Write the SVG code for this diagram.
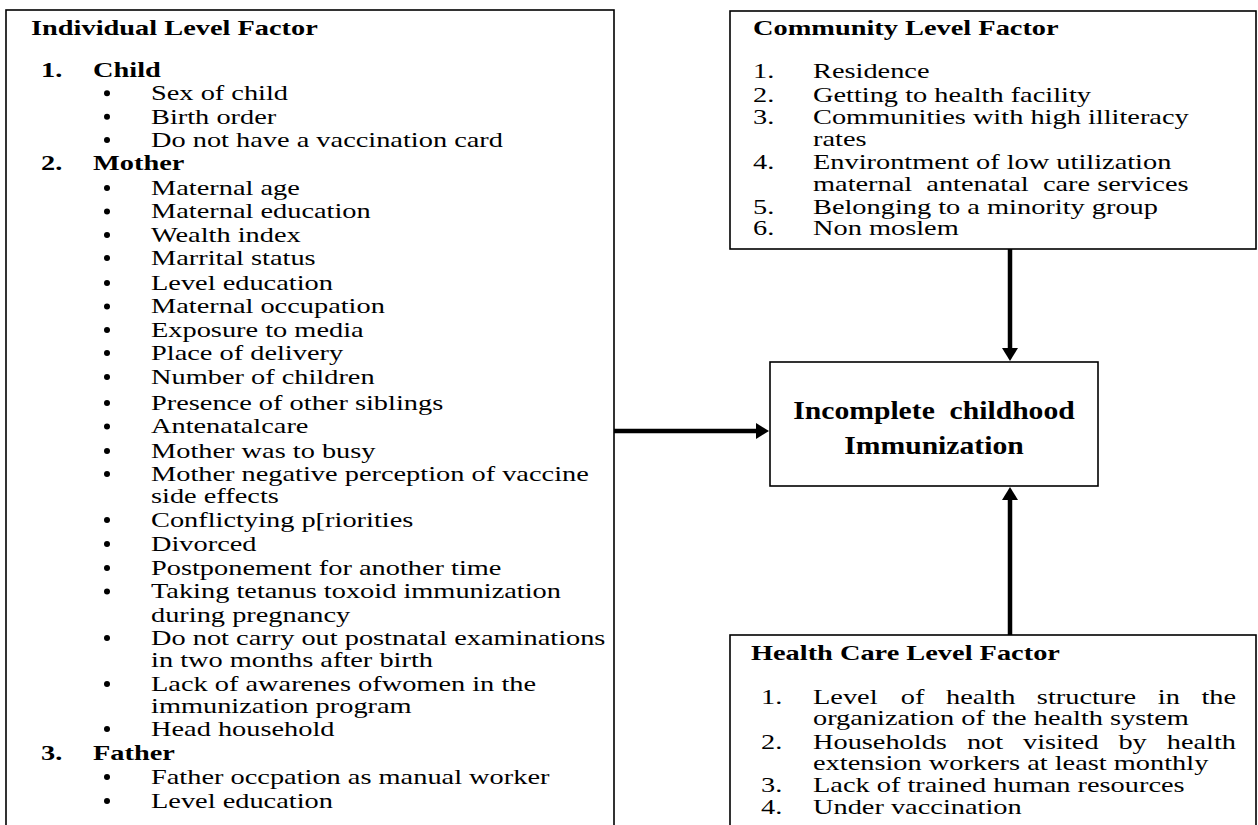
<svg xmlns="http://www.w3.org/2000/svg" width="1258" height="825" viewBox="0 0 1258 825">
<style>
  .box { fill: #fff; stroke: #000; stroke-width: 1.6; }
  text { font-family: "Liberation Serif", "Times New Roman", serif; font-size: 21.5px; fill: #000; white-space: pre; }
  .b { font-weight: bold; }
  .ctr { font-weight: bold; font-size: 26px; text-anchor: middle; }
  .end { text-anchor: end; }
  .bul { fill: #000; }
  .conn { stroke: #000; stroke-width: 4.5; fill: none; marker-end: url(#arr); }
</style>
<defs>
  <marker id="arr" viewBox="0 0 13 16" refX="2" refY="8" markerWidth="13" markerHeight="16" markerUnits="userSpaceOnUse" orient="auto">
    <path d="M0,0 L13,8 L0,16 Z" fill="#000"/>
  </marker>
</defs>
<rect width="1258" height="825" fill="#fff"/>

<g id="individual">
  <rect class="box" x="6" y="10" width="608" height="830"/>
  <g transform="scale(1.32 1)">
    <text class="b" x="23.5" y="35">Individual Level Factor</text>
    <text class="b" x="31.1" y="77.5">1.</text><text class="b" x="70.5" y="77.5">Child</text>
    <text x="114.4" y="100.3">Sex of child</text>
    <text x="114.4" y="123.7">Birth order</text>
    <text x="114.4" y="147">Do not have a vaccination card</text>
    <text class="b" x="31.1" y="170.5">2.</text><text class="b" x="70.5" y="170.5">Mother</text>
    <text x="114.4" y="195">Maternal age</text>
    <text x="114.4" y="218.5">Maternal education</text>
    <text x="114.4" y="242">Wealth index</text>
    <text x="114.4" y="265">Marrital status</text>
    <text x="114.4" y="290">Level education</text>
    <text x="114.4" y="313.5">Maternal occupation</text>
    <text x="114.4" y="337">Exposure to media</text>
    <text x="114.4" y="360">Place of delivery</text>
    <text x="114.4" y="384">Number of children</text>
    <text x="114.4" y="410">Presence of other siblings</text>
    <text x="114.4" y="433.5">Antenatalcare</text>
    <text x="114.4" y="458">Mother was to busy</text>
    <text x="114.4" y="481">Mother negative perception of vaccine</text>
    <text x="114.4" y="503.5">side effects</text>
    <text x="114.4" y="527">Conflictying p[riorities</text>
    <text x="114.4" y="551">Divorced</text>
    <text x="114.4" y="575">Postponement for another time</text>
    <text x="114.4" y="598.5">Taking tetanus toxoid immunization</text>
    <text x="114.4" y="621.5">during pregnancy</text>
    <text x="114.4" y="645">Do not carry out postnatal examinations</text>
    <text x="114.4" y="667">in two months after birth</text>
    <text x="114.4" y="691">Lack of awarenes ofwomen in the</text>
    <text x="114.4" y="713.5">immunization program</text>
    <text x="114.4" y="736">Head household</text>
    <text class="b" x="31.1" y="760.5">3.</text><text class="b" x="70.5" y="760.5">Father</text>
    <text x="114.4" y="784">Father occpation as manual worker</text>
    <text x="114.4" y="808">Level education</text>
  </g>
  <g class="bul">
    <circle cx="107" cy="93.3" r="3"/>
    <circle cx="107" cy="116.7" r="3"/>
    <circle cx="107" cy="140" r="3"/>
    <circle cx="107" cy="188" r="3"/>
    <circle cx="107" cy="211.5" r="3"/>
    <circle cx="107" cy="235" r="3"/>
    <circle cx="107" cy="258" r="3"/>
    <circle cx="107" cy="283" r="3"/>
    <circle cx="107" cy="306.5" r="3"/>
    <circle cx="107" cy="330" r="3"/>
    <circle cx="107" cy="353" r="3"/>
    <circle cx="107" cy="377" r="3"/>
    <circle cx="107" cy="403" r="3"/>
    <circle cx="107" cy="426.5" r="3"/>
    <circle cx="107" cy="451" r="3"/>
    <circle cx="107" cy="474" r="3"/>
    <circle cx="107" cy="520" r="3"/>
    <circle cx="107" cy="544" r="3"/>
    <circle cx="107" cy="568" r="3"/>
    <circle cx="107" cy="591.5" r="3"/>
    <circle cx="107" cy="638" r="3"/>
    <circle cx="107" cy="684" r="3"/>
    <circle cx="107" cy="729" r="3"/>
    <circle cx="107" cy="777" r="3"/>
    <circle cx="107" cy="801" r="3"/>
  </g>
</g>

<g id="community">
  <rect class="box" x="730" y="11" width="526" height="238"/>
  <g transform="scale(1.32 1)">
    <text class="b" x="570.5" y="35">Community Level Factor</text>
    <text x="570.5" y="78">1.</text><text x="615.9" y="78">Residence</text>
    <text x="570.5" y="102">2.</text><text x="615.9" y="102">Getting to health facility</text>
    <text x="570.5" y="124">3.</text><text x="615.9" y="124">Communities with high illiteracy</text>
    <text x="615.9" y="146">rates</text>
    <text x="570.5" y="169">4.</text><text x="615.9" y="169">Environtment of low utilization</text>
    <text x="615.9" y="191">maternal  antenatal  care services</text>
    <text x="570.5" y="214">5.</text><text x="615.9" y="214">Belonging to a minority group</text>
    <text x="570.5" y="235">6.</text><text x="615.9" y="235">Non moslem</text>
  </g>
</g>

<g id="outcome">
  <rect class="box" x="770" y="362" width="328" height="124"/>
  <g transform="scale(1.14 1)">
    <text class="ctr" x="819.3" y="419">Incomplete  childhood</text>
    <text class="ctr" x="819.3" y="454">Immunization</text>
  </g>
</g>

<g id="healthcare">
  <rect class="box" x="730" y="635" width="526" height="220"/>
  <g transform="scale(1.32 1)">
    <text class="b" x="568.9" y="660">Health Care Level Factor</text>
    <text x="576.5" y="704">1.</text>
    <text x="615.9" y="704">Level</text><text x="682.4" y="704">of</text><text x="716.7" y="704">health</text><text x="785.5" y="704">structure</text><text x="877.1" y="704">in</text><text class="end" x="936.4" y="704">the</text>
    <text x="615.9" y="725">organization of the health system</text>
    <text x="576.5" y="749">2.</text>
    <text x="615.9" y="749">Households</text><text x="732.5" y="749">not</text><text x="775" y="749">visited</text><text x="847.3" y="749">by</text><text class="end" x="936.4" y="749">health</text>
    <text x="615.9" y="770">extension workers at least monthly</text>
    <text x="576.5" y="792">3.</text><text x="615.9" y="792">Lack of trained human resources</text>
    <text x="576.5" y="814">4.</text><text x="615.9" y="814">Under vaccination</text>
  </g>
</g>

<g id="connectors">
  <line class="conn" x1="614" y1="431" x2="758" y2="431"/>
  <line class="conn" x1="1010" y1="249" x2="1010" y2="350"/>
  <line class="conn" x1="1010" y1="635" x2="1010" y2="498"/>
</g>
</svg>
